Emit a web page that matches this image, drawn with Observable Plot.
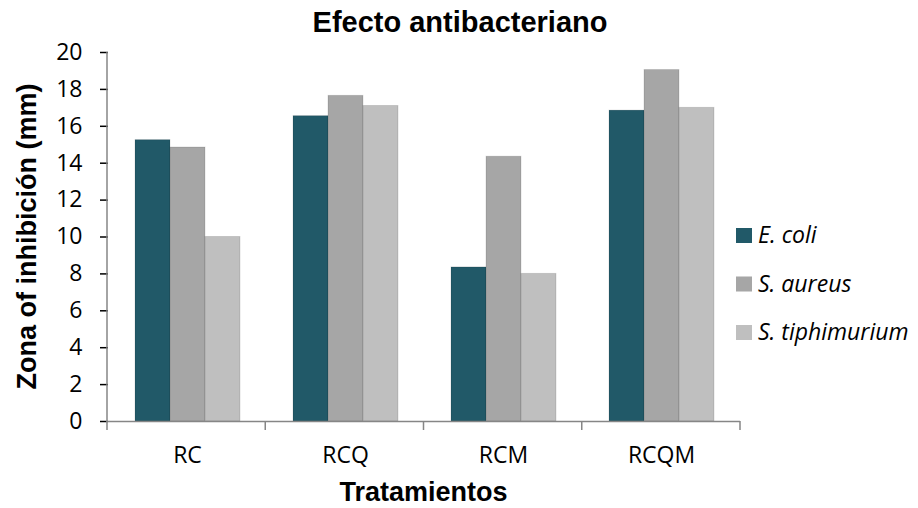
<!DOCTYPE html>
<html><head><meta charset="utf-8">
<script src="https://cdn.jsdelivr.net/npm/d3@7"></script>
<script src="https://cdn.jsdelivr.net/npm/@observablehq/plot@0.6"></script>
<style>body{margin:0;background:#fff} svg{display:block}</style>
</head><body><div id="chart"></div>
<script>
const categories = ["RC", "RCQ", "RCM", "RCQM"];
const series = ["E. coli", "S. aureus", "S. tiphimurium"];
const ecoli = [15.25, 16.55, 8.35, 16.85];
const saureus = [14.85, 17.65, 14.35, 19.05];
const stiph = [10.0, 17.1, 8.0, 17.0];
const yTicks = [0, 2, 4, 6, 8, 10, 12, 14, 16, 18, 20];
const colors = ["#215968", "#A6A6A6", "#BFBFBF"];
const titleText = "Efecto antibacteriano";
const xLabel = "Tratamientos";
const yLabel = "Zona of inhibición (mm)";

const seriesValues = [ecoli, saureus, stiph];
const data = categories.flatMap((c, i) => series.map((s, j) => ({cat: c, series: s, value: seriesValues[j][i]})));

const axisGray = "#868686";

const chart = Plot.plot({
  width: 918, height: 508,
  marginTop: 52, marginBottom: 87, marginLeft: 107, marginRight: 178,
  style: {fontFamily: "'Open Sans', sans-serif", fontSize: "23px", color: "#000", background: "#fff", overflow: "visible"},
  fx: {domain: categories, padding: 0, axis: "bottom", tickSize: 0, tickPadding: 25, label: null},
  x: {domain: series, paddingInner: 0, paddingOuter: 0.74, axis: null},
  y: {domain: [0, 20], ticks: yTicks, tickSize: 8, tickPadding: 18, label: null, tickFormat: d => String(d)},
  color: {domain: series, range: colors},
  marks: [
    Plot.barY(data, {fx: "cat", x: "series", y: "value", fill: "series", stroke: "#000", strokeOpacity: 0.12, strokeWidth: 1}),
    Plot.ruleY([0], {stroke: axisGray, strokeWidth: 1.5})
  ]
});

document.getElementById("chart").appendChild(chart);

const svg = d3.select(chart);
svg.selectAll('g[aria-label="y-axis tick"]').attr("stroke", axisGray).attr("stroke-width", 1.5);

const yS = chart.scale("y");
const fxS = chart.scale("fx");
const y0 = yS.apply(0), yTop = yS.apply(20);
const r0 = fxS.range[0], r1 = fxS.range[1];
const step = (r1 - r0) / categories.length;

// y axis line
svg.append("line").attr("x1", r0).attr("x2", r0).attr("y1", yTop).attr("y2", y0 + 1)
  .attr("stroke", axisGray).attr("stroke-width", 1.5);
// category boundary ticks
d3.range(categories.length + 1).forEach(i => {
  const x = r0 + i * step;
  svg.append("line").attr("x1", x).attr("x2", x).attr("y1", y0).attr("y2", y0 + 9)
    .attr("stroke", axisGray).attr("stroke-width", 1.5);
});

const bold = "'Liberation Sans', Arial, sans-serif";
svg.append("text").attr("x", 460).attr("y", 32).attr("text-anchor", "middle")
  .style("font-family", bold).style("font-weight", "bold").style("font-size", "29px").text(titleText);
svg.append("text").attr("x", (r0 + r1) / 2).attr("y", 501).attr("text-anchor", "middle")
  .style("font-family", bold).style("font-weight", "bold").style("font-size", "27px").text(xLabel);
svg.append("text").attr("transform", `translate(36,${(y0 + yTop) / 2}) rotate(-90)`).attr("text-anchor", "middle")
  .style("font-family", bold).style("font-weight", "bold").style("font-size", "27px").text(yLabel);

// legend
const lg = svg.append("g").attr("text-anchor", "start");
series.forEach((s, i) => {
  const cy = 235.5 + i * 48.5;
  lg.append("rect").attr("x", 736).attr("y", cy - 7.5).attr("width", 16).attr("height", 15).attr("fill", colors[i]);
  lg.append("text").attr("x", 758).attr("y", cy + 7.5).attr("text-anchor", "start")
    .style("font-family", "'Open Sans', sans-serif").style("font-style", "italic").style("font-size", "23px").text(s);
});
</script>
</body></html>
